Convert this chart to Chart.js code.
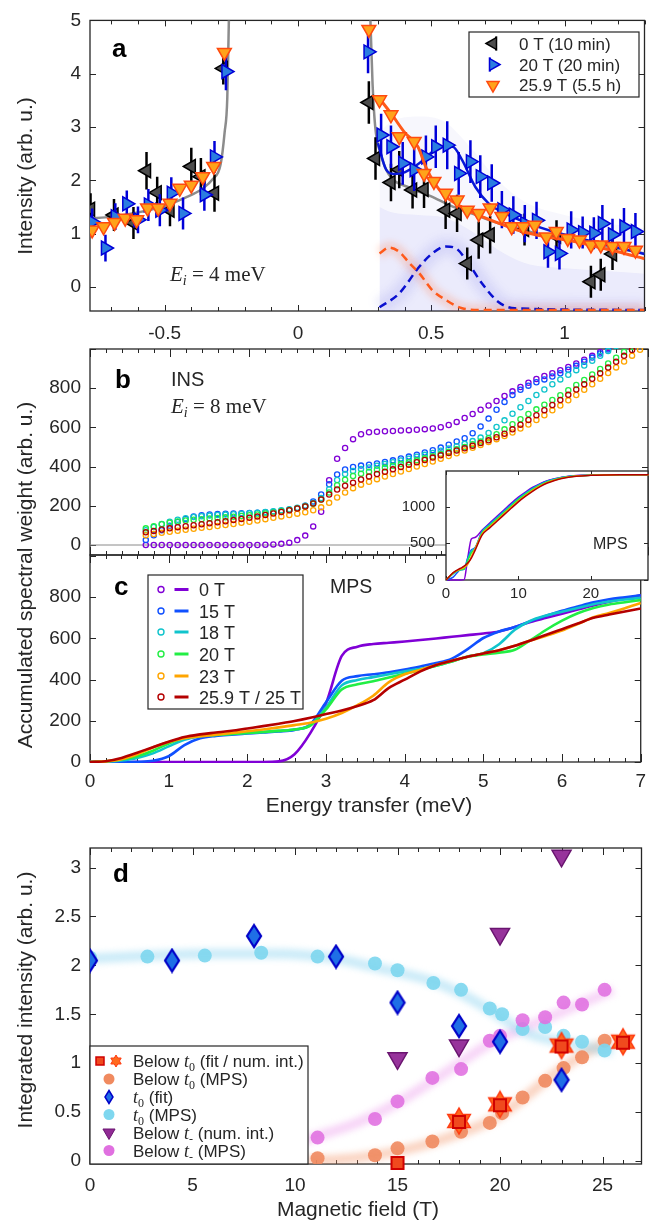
<!DOCTYPE html>
<html>
<head>
<meta charset="utf-8">
<script src="https://cdn.jsdelivr.net/npm/chart.js@4.4.0/dist/chart.umd.min.js"></script>
<style>
  body { margin: 0; background: #fff; }
  #wrap { position: relative; width: 654px; height: 1222px; overflow: hidden;
          font-family: 'Liberation Sans', Arial, sans-serif; color: #262626; }
  #wrap canvas { position: absolute; left: 0; top: 0; }
  .ttl { position: absolute; font-size: 21px; line-height: 1; white-space: nowrap;
         transform: translate(-50%, -50%); }
  .ttl.v { transform: translate(-50%, -50%) rotate(-90deg); }
</style>
</head>
<body>
<div id="wrap">
  <canvas id="pa" width="654" height="1222"></canvas>
  <canvas id="pb" width="654" height="1222"></canvas>
  <canvas id="pc" width="654" height="1222"></canvas>
  <canvas id="pd" width="654" height="1222"></canvas>
  <canvas id="pin" width="654" height="1222"></canvas>
  <div class="ttl v" style="left:24px;top:176px">Intensity (arb. u.)</div>
  <div class="ttl v" style="left:24px;top:575px">Accumulated spectral weight (arb. u.)</div>
  <div class="ttl v" style="left:24px;top:1000px">Integrated intensity (arb. u.)</div>
  <div class="ttl" style="left:369px;top:804px">Energy transfer (meV)</div>
  <div class="ttl" style="left:358px;top:1208px">Magnetic field (T)</div>
</div>
<script>
// ---------- panel a : cuts at 0 T, 20 T, 25.9 T (Ei = 4 meV)
const blackX = [-0.778, -0.69, -0.617, -0.568, -0.528, -0.48, -0.40, -0.364, -0.313, -0.28,
  0.266, 0.291, 0.349, 0.38, 0.43, 0.473, 0.554, 0.597, 0.635, 0.678, 0.721, 0.85, 0.97, 1.099, 1.136, 1.18];
const blackY = [1.46, 1.35, 1.2, 2.18, 1.77, 1.44, 2.26, 2.07, 1.76, 4.10,
  3.46, 2.41, 1.96, 2.2, 1.82, 1.83, 1.44, 1.38, 0.44, 0.88, 0.98, 1.08, 0.95, 0.10, 0.23, 0.62];
const blackErr = [0.3, 0.3, 0.3, 0.35, 0.3, 0.3, 0.35, 0.35, 0.35, 0.3,
  0.4, 0.4, 0.35, 0.35, 0.35, 0.35, 0.35, 0.35, 0.3, 0.35, 0.35, 0.3, 0.3, 0.3, 0.3, 0.3];

const blueX = [-0.772, -0.722, -0.685, -0.642, -0.60, -0.561, -0.518, -0.475, -0.431, -0.351, -0.313, -0.27,
  0.263, 0.312, 0.349, 0.393, 0.436, 0.48, 0.517, 0.56, 0.603, 0.647, 0.684, 0.727, 0.765,
  0.808, 0.851, 0.895, 0.938, 0.981, 1.025, 1.068, 1.11, 1.142, 1.18, 1.223, 1.266];
const blueY = [1.22, 0.73, 1.32, 1.56, 1.26, 1.54, 1.44, 1.76, 1.38, 1.73, 2.44, 4.04,
  4.41, 2.85, 2.63, 2.32, 2.2, 2.44, 2.63, 2.66, 2.13, 2.35, 2.07, 1.95, 1.45,
  1.35, 1.19, 1.25, 0.66, 0.63, 1.07, 1.02, 1.01, 1.19, 0.98, 1.13, 1.04];
const blueErr = [0.25, 0.25, 0.25, 0.25, 0.25, 0.3, 0.3, 0.3, 0.3, 0.3, 0.3, 0.35,
  0.4, 0.4, 0.4, 0.4, 0.4, 0.4, 0.4, 0.45, 0.4, 0.4, 0.4, 0.35, 0.35,
  0.35, 0.35, 0.35, 0.3, 0.3, 0.35, 0.3, 0.3, 0.35, 0.3, 0.35, 0.35];

const orangeX = [-0.772, -0.729, -0.688, -0.648, -0.605, -0.564, -0.524, -0.48, -0.443, -0.40, -0.357, -0.316, -0.276,
  0.266, 0.306, 0.349, 0.38, 0.436, 0.473, 0.51, 0.554, 0.597, 0.635, 0.678, 0.721, 0.765,
  0.802, 0.845, 0.888, 0.932, 0.969, 1.012, 1.056, 1.099, 1.136, 1.18, 1.223, 1.266];
const orangeY = [1.07, 1.13, 1.21, 1.29, 1.26, 1.48, 1.48, 1.57, 1.85, 1.91, 2.07, 2.26, 4.40,
  4.83, 3.51, 3.23, 2.82, 2.73, 2.13, 1.98, 1.76, 1.63, 1.44, 1.38, 1.48, 1.32,
  1.13, 1.13, 1.16, 0.94, 1.04, 0.91, 0.88, 0.79, 0.79, 0.76, 0.76, 0.69];

// fitted curves
const greyLeftX = [-0.78, -0.7, -0.6, -0.5, -0.42, -0.36, -0.32, -0.29, -0.275, -0.265, -0.258];
const greyLeftY = [1.28, 1.32, 1.4, 1.52, 1.68, 1.84, 2.02, 2.3, 2.9, 3.55, 5.3];
const greyRightX = [0.27, 0.28, 0.29, 0.31, 0.34, 0.42, 0.5, 0.57, 0.65, 0.75, 0.9, 1.05, 1.2, 1.3];
const greyRightY = [5.3, 3.8, 3.0, 2.5, 2.12, 1.86, 1.7, 1.53, 1.38, 1.2, 1.0, 0.85, 0.72, 0.63];
const blueFitX = [0.3, 0.331, 0.36, 0.4, 0.455, 0.5, 0.53, 0.58, 0.616, 0.665, 0.715, 0.77, 0.85, 0.95, 1.05, 1.15, 1.3];
const blueFitY = [2.7, 2.2, 2.12, 2.15, 2.32, 2.52, 2.63, 2.63, 2.38, 1.88, 1.57, 1.4, 1.22, 1.05, 0.92, 0.8, 0.62];
const orangeFitX = [0.3, 0.35, 0.4, 0.45, 0.48, 0.512, 0.55, 0.636, 0.7, 0.823, 0.9, 1.009, 1.1, 1.2, 1.3];
const orangeFitY = [3.57, 3.25, 2.9, 2.63, 2.25, 1.95, 1.72, 1.44, 1.3, 1.07, 0.97, 0.88, 0.78, 0.66, 0.53];
const orangeDashX = [0.306, 0.343, 0.38, 0.418, 0.455, 0.504, 0.554, 0.616, 0.69, 1.3];
const orangeDashY = [0.63, 0.74, 0.66, 0.45, 0.26, -0.06, -0.24, -0.40, -0.43, -0.43];
const blueDashX = [0.306, 0.38, 0.455, 0.504, 0.554, 0.591, 0.64, 0.69, 0.752, 0.814, 1.3];
const blueDashY = [-0.38, -0.12, 0.38, 0.63, 0.76, 0.73, 0.44, 0.07, -0.28, -0.40, -0.43];
const hazeX = [0.306, 0.35, 0.45, 0.55, 0.65, 0.75, 0.85, 1.0, 1.15, 1.3];
const hazeHi = [2.9, 3.1, 3.2, 3.1, 2.6, 2.0, 1.6, 1.35, 1.2, 1.1];
const hazeLo = [1.5, 1.4, 1.35, 1.3, 1.05, 0.7, 0.45, 0.35, 0.3, 0.25];

// ---------- panel b : INS accumulated weight (Ei = 8 meV)
const insE = [0.7, 0.8, 0.9, 1.0, 1.1, 1.2, 1.3, 1.4, 1.5, 1.6,
  1.7, 1.8, 1.9, 2.0, 2.1, 2.2, 2.3, 2.4, 2.5, 2.6,
  2.7, 2.8, 2.9, 3.0, 3.1, 3.2, 3.3, 3.4, 3.5, 3.6,
  3.7, 3.8, 3.9, 4.0, 4.1, 4.2, 4.3, 4.4, 4.5, 4.6,
  4.7, 4.8, 4.9, 5.0, 5.1, 5.2, 5.3, 5.4, 5.5, 5.6,
  5.7, 5.8, 5.9, 6.0, 6.1, 6.2, 6.3, 6.4, 6.5, 6.6,
  6.7, 6.8, 6.9, 7.0];
const ins0 = [0, 0, 0, 0, 0, 0, 0, 0, 0, 0,
  0, 0, 0, 0, 0, 1, 3, 6, 12, 25,
  48, 95, 170, 330, 440, 495, 540, 565, 575, 578,
  580, 582, 584, 586, 588, 591, 595, 601, 612, 628,
  648, 668, 690, 712, 735, 760, 784, 806, 828, 847,
  862, 876, 892, 908, 926, 945, 965, 985, 1005, 1025,
  1045, 1065, 1085, 1105];
const ins15 = [25, 50, 75, 98, 118, 133, 145, 152, 156, 158,
  160, 161, 162, 163, 165, 167, 170, 174, 180, 188,
  200, 222, 258, 310, 360, 385, 398, 405, 410, 416,
  424, 432, 441, 451, 461, 472, 484, 497, 512, 528,
  545, 570, 605, 645, 690, 730, 765, 792, 813, 830,
  845, 860, 876, 894, 914, 935, 956, 977, 998, 1020,
  1040, 1060, 1080, 1100];
const ins18 = [75, 92, 107, 119, 129, 137, 143, 147, 150, 153,
  155, 157, 159, 162, 165, 168, 172, 177, 183, 190,
  200, 215, 240, 285, 332, 362, 378, 388, 396, 404,
  413, 422, 431, 440, 450, 460, 470, 481, 492, 504,
  516, 530, 548, 572, 602, 636, 670, 703, 735, 765,
  793, 820, 845, 868, 892, 916, 940, 965, 990, 1015,
  1038, 1060, 1082, 1104];
const ins20 = [85, 96, 106, 114, 120, 125, 129, 132, 135, 138,
  141, 144, 148, 152, 156, 161, 166, 172, 178, 186,
  196, 210, 232, 268, 305, 333, 352, 364, 374, 385,
  395, 404, 413, 422, 432, 442, 453, 464, 476, 488,
  500, 514, 528, 545, 565, 590, 616, 642, 668, 692,
  716, 740, 764, 790, 816, 842, 870, 898, 926, 955,
  985, 1012, 1040, 1068];
const ins23 = [50, 56, 62, 68, 73, 78, 83, 88, 92, 97,
  102, 107, 113, 119, 125, 132, 139, 146, 153, 160,
  167, 177, 192, 215, 242, 268, 290, 308, 323, 336,
  349, 362, 375, 388, 400, 413, 426, 440, 454, 468,
  482, 496, 510, 525, 540, 556, 574, 594, 615, 638,
  662, 687, 712, 738, 765, 792, 820, 848, 877, 906,
  936, 966, 996, 1026];
const ins25 = [65, 72, 79, 85, 91, 96, 101, 106, 111, 116,
  121, 127, 133, 139, 146, 153, 161, 169, 177, 186,
  197, 212, 232, 258, 283, 302, 318, 334, 350, 362,
  374, 386, 398, 410, 422, 434, 446, 458, 470, 482,
  494, 507, 520, 534, 550, 568, 590, 614, 638, 662,
  688, 714, 740, 766, 793, 820, 848, 876, 905, 935,
  965, 995, 1025, 1055];

// ---------- panel c : MPS accumulated weight
const mpsE = [0, 0.2, 0.4, 0.6, 0.8, 1.0, 1.2, 1.4, 1.6, 1.8, 2.0, 2.2,
  2.4, 2.6, 2.8, 3.0, 3.2, 3.4, 3.6, 3.8, 4.0, 4.2, 4.4, 4.6,
  4.8, 5.0, 5.2, 5.4, 5.6, 5.8, 6.0, 6.2, 6.4, 6.6, 6.8, 7.0];
const mps0 = [0, 0, 0, 0, 0, 0, 0, 0, 0, 0, 0, 0,
  3, 38, 140, 285, 515, 560, 573, 579, 585, 592, 600, 608,
  616, 624, 634, 655, 680, 700, 720, 740, 760, 778, 794, 810];
const mps15 = [0, 0, 0, 1, 6, 28, 82, 115, 127, 133, 138, 143,
  148, 156, 182, 290, 395, 417, 426, 436, 449, 464, 480, 502,
  548, 602, 634, 655, 684, 710, 734, 755, 775, 790, 800, 810];
const mps18 = [0, 2, 8, 20, 42, 76, 108, 124, 131, 136, 141, 146,
  151, 158, 178, 265, 372, 398, 412, 426, 440, 453, 467, 488,
  512, 528, 572, 642, 686, 711, 730, 748, 766, 779, 789, 797];
const mps20 = [0, 3, 12, 28, 55, 90, 116, 126, 131, 136, 141, 146,
  151, 158, 177, 255, 352, 377, 392, 410, 428, 447, 467, 488,
  511, 522, 531, 545, 592, 642, 686, 722, 748, 765, 776, 786];
const mps23 = [0, 3, 14, 38, 70, 97, 115, 125, 133, 141, 149, 158,
  168, 179, 191, 210, 238, 276, 322, 388, 426, 448, 471, 492,
  511, 527, 543, 564, 590, 613, 638, 670, 703, 724, 747, 772];
const mps25 = [0, 4, 20, 45, 72, 98, 121, 134, 143, 152, 163, 174,
  186, 199, 215, 233, 250, 272, 300, 360, 400, 440, 471, 492,
  511, 527, 543, 564, 590, 618, 645, 672, 700, 716, 731, 745];

// ---------- inset : MPS over the full band
const insetE = [0, 1, 2, 2.5, 3, 3.5, 4, 5, 6, 7, 8, 9, 10, 11, 12, 13, 14, 15, 16, 18, 20, 22, 24, 26, 28];
const inset0 = [0, 0, 0, 5, 300, 560, 580, 680, 775, 865, 955, 1045, 1130, 1200, 1265, 1315, 1355, 1383, 1403, 1425, 1432, 1434, 1435, 1435, 1435];
const inset15 = [0, 40, 140, 150, 300, 410, 440, 665, 760, 850, 940, 1030, 1115, 1188, 1255, 1307, 1350, 1378, 1400, 1423, 1431, 1434, 1435, 1435, 1435];
const inset18 = [0, 85, 140, 150, 275, 395, 430, 655, 750, 840, 930, 1020, 1108, 1180, 1248, 1302, 1345, 1375, 1398, 1422, 1431, 1434, 1435, 1435, 1435];
const inset20 = [0, 95, 140, 152, 265, 372, 420, 645, 740, 830, 920, 1010, 1100, 1172, 1240, 1295, 1340, 1370, 1395, 1420, 1430, 1433, 1435, 1435, 1435];
const inset23 = [0, 98, 150, 170, 212, 320, 425, 630, 722, 812, 902, 992, 1080, 1155, 1225, 1283, 1330, 1363, 1390, 1418, 1429, 1433, 1435, 1435, 1435];
const inset25 = [0, 100, 160, 188, 232, 300, 400, 615, 708, 798, 888, 978, 1066, 1143, 1214, 1274, 1323, 1358, 1386, 1416, 1428, 1433, 1435, 1435, 1435];

// ---------- panel d : integrated intensities vs field
const fitT0X = [0, 4, 8, 12, 15, 18, 20, 23];
const fitT0Y = [2.05, 2.05, 2.30, 2.09, 1.62, 1.38, 1.22, 0.83];
const fitT0Err = [0.06, 0.08, 0.08, 0.08, 0.07, 0.08, 0.06, 0.09];
const mpsT0X = [0, 2.8, 5.6, 8.35, 11.1, 13.9, 15.0, 16.75, 18.1, 19.5, 20.1, 21.1, 22.2, 23.1, 24.0, 25.1];
const mpsT0Y = [2.08, 2.09, 2.10, 2.13, 2.09, 2.02, 1.95, 1.82, 1.75, 1.56, 1.50, 1.35, 1.37, 1.28, 1.22, 1.13];
const mpsBelowT0X = [11.1, 13.9, 15.0, 16.7, 18.1, 19.5, 20.1, 21.1, 22.2, 23.1, 24.0, 25.1];
const mpsBelowT0Y = [0.03, 0.06, 0.13, 0.20, 0.30, 0.39, 0.49, 0.65, 0.82, 0.95, 1.06, 1.23];
const mpsBelowTmX = [11.1, 13.9, 15.0, 16.7, 18.1, 19.5, 20.0, 21.1, 22.2, 23.1, 24.0, 25.1];
const mpsBelowTmY = [0.24, 0.43, 0.61, 0.85, 0.94, 1.23, 1.28, 1.44, 1.47, 1.62, 1.60, 1.75];
const numBelowTmX = [15, 18, 20, 23];
const numBelowTmY = [1.05, 1.18, 2.32, 3.12];
const fitBelowT0X = [15, 18, 20, 23, 26];
const fitBelowT0Y = [-0.02, 0.40, 0.57, 1.17, 1.21];
const numBelowT0X = [18, 20, 23, 26];
const numBelowT0Y = [0.41, 0.58, 1.18, 1.22];
const bandT0X = [0, 3, 6, 9, 12, 13.5, 15, 16.8, 18.2, 19.6, 21.2, 23.4, 25.5];
const bandT0Y = [2.07, 2.1, 2.12, 2.12, 2.07, 2.0, 1.93, 1.83, 1.7, 1.53, 1.32, 1.2, 1.12];
const bandTmX = [9.5, 11, 12.9, 14.6, 17.1, 19.5, 22.2, 25.5];
const bandTmY = [0.15, 0.25, 0.38, 0.55, 0.87, 1.2, 1.45, 1.75];
const bandBelowX = [10.5, 12.9, 15, 16.7, 18, 19.5, 20.5, 21.5, 22.7, 24.3, 25.5];
const bandBelowY = [0.0, 0.03, 0.1, 0.19, 0.28, 0.41, 0.54, 0.7, 0.9, 1.12, 1.24];

// ---------- styling
const SANS = "'Liberation Sans', Arial, sans-serif";
const SERIF = "'Liberation Serif', 'Times New Roman', serif";
const INK = '#262626';
const fieldColors = ['#8000d6', '#1050ff', '#10c4cc', '#22ee44', '#ffa500', '#b40000'];

Chart.defaults.font.family = SANS;
Chart.defaults.font.size = 19;
Chart.defaults.color = INK;
Chart.defaults.animation = false;
Chart.defaults.plugins.legend.display = false;
Chart.defaults.plugins.tooltip.enabled = false;

const pts = (xs, ys) => xs.map((x, i) => ({ x: x, y: ys[i] }));
const fmt = v => String(Math.round(v * 100) / 100);

function drawMark(ctx, m) {
  ctx.save();
  ctx.translate(m.x, m.y);
  ctx.beginPath();
  if (m.shape === 'triangle') {
    const rad = (m.rot || 0) * Math.PI / 180;
    for (let k = 0; k < 3; k++) {
      const t = rad + k * 2 * Math.PI / 3;
      const px = Math.sin(t) * m.r, py = -Math.cos(t) * m.r;
      if (k) ctx.lineTo(px, py); else ctx.moveTo(px, py);
    }
    ctx.closePath();
  } else if (m.shape === 'circle') {
    ctx.arc(0, 0, m.r, 0, 2 * Math.PI);
  } else if (m.shape === 'rect') {
    ctx.rect(-m.r, -m.r, 2 * m.r, 2 * m.r);
  } else if (m.shape === 'diamond') {
    ctx.moveTo(0, -m.h / 2); ctx.lineTo(m.w / 2, 0); ctx.lineTo(0, m.h / 2); ctx.lineTo(-m.w / 2, 0);
    ctx.closePath();
  } else if (m.shape === 'star') {
    for (let k = 0; k < 12; k++) {
      const t = k * Math.PI / 6;
      const rr = k % 2 ? m.r / Math.sqrt(3) : m.r;
      const px = Math.sin(t) * rr, py = -Math.cos(t) * rr;
      if (k) ctx.lineTo(px, py); else ctx.moveTo(px, py);
    }
    ctx.closePath();
  } else if (m.shape === 'hline') {
    ctx.moveTo(-m.len / 2, 0); ctx.lineTo(m.len / 2, 0);
  } else if (m.shape === 'vline') {
    ctx.moveTo(0, -m.len / 2); ctx.lineTo(0, m.len / 2);
  }
  if (m.fill) { ctx.fillStyle = m.fill; ctx.fill(); }
  if (m.stroke) { ctx.strokeStyle = m.stroke; ctx.lineWidth = m.lw || 1; ctx.stroke(); }
  ctx.restore();
}

function markCanvas(m, w, h) {
  const c = document.createElement('canvas');
  c.width = w; c.height = h;
  drawMark(c.getContext('2d'), Object.assign({}, m, { x: w / 2, y: h / 2 }));
  return c;
}

function drawParts(ctx, x, y, parts) {
  let cx = x;
  parts.forEach(p => {
    ctx.font = p.font;
    ctx.fillStyle = p.color || INK;
    ctx.fillText(p.t, cx, y + (p.dy || 0));
    cx += ctx.measureText(p.t).width;
  });
}

function drawFrame(chart, spec) {
  const { ctx, chartArea: a, scales } = chart;
  ctx.save();
  ctx.strokeStyle = INK;
  ctx.lineWidth = 1;
  const marks = (scale, s, horiz) => {
    const n0 = Math.ceil(scale.min / s.step - 1e-6), n1 = Math.floor(scale.max / s.step + 1e-6);
    ctx.beginPath();
    for (let n = n0; n <= n1; n++) {
      const v = n * s.step;
      const major = s.major ? Math.abs(v / s.major - Math.round(v / s.major)) < 1e-6 : true;
      const len = major ? s.len : s.minor;
      const p = Math.round(scale.getPixelForValue(v)) + 0.5;
      if (horiz) {
        ctx.moveTo(p, a.bottom); ctx.lineTo(p, a.bottom - len);
        ctx.moveTo(p, a.top); ctx.lineTo(p, a.top + len);
      } else {
        ctx.moveTo(a.left, p); ctx.lineTo(a.left + len, p);
        ctx.moveTo(a.right, p); ctx.lineTo(a.right - len, p);
      }
    }
    ctx.stroke();
  };
  marks(scales.x, spec.x, true);
  marks(scales.y, spec.y, false);
  ctx.lineWidth = 1.3;
  ctx.strokeRect(a.left, a.top, a.right - a.left, a.bottom - a.top);
  ctx.restore();
}

function drawLegend(ctx, lg) {
  const [l, t, r, b] = lg.box;
  ctx.save();
  ctx.fillStyle = '#fff';
  ctx.fillRect(l, t, r - l, b - t);
  ctx.strokeStyle = INK;
  ctx.lineWidth = 1.2;
  ctx.strokeRect(l, t, r - l, b - t);
  lg.rows.forEach(row => {
    row.marks.forEach(m => drawMark(ctx, Object.assign({ y: row.y }, m)));
    drawParts(ctx, lg.tx, row.y + lg.dy, row.text);
  });
  ctx.restore();
}

// per-canvas decorations, looked up by canvas id
const extras = {};

const decor = {
  id: 'decor',
  beforeDatasetsDraw(chart) {
    const ex = extras[chart.canvas.id];
    if (!ex) return;
    const { ctx, chartArea: a } = chart;
    if (ex.whiteArea) {
      ctx.save();
      ctx.fillStyle = '#fff';
      ctx.fillRect(a.left, a.top, a.right - a.left, a.bottom - a.top);
      ctx.restore();
    }
    drawFrame(chart, ex.frame);
  },
  beforeDatasetDraw(chart, args) {
    const ds = chart.data.datasets[args.index];
    const { ctx, chartArea: a } = chart;
    if (ds.blur) ctx.filter = 'blur(' + ds.blur + 'px)';
    if (!ds.errY) return;
    const xs = chart.scales.x, ys = chart.scales.y;
    ctx.save();
    ctx.beginPath();
    ctx.rect(a.left, a.top, a.right - a.left, a.bottom - a.top);
    ctx.clip();
    ctx.strokeStyle = ds.errColor;
    ctx.lineWidth = ds.errWidth || 2.5;
    ctx.beginPath();
    ds.data.forEach((p, i) => {
      const px = xs.getPixelForValue(p.x);
      ctx.moveTo(px, ys.getPixelForValue(p.y - ds.errY[i]));
      ctx.lineTo(px, ys.getPixelForValue(p.y + ds.errY[i]));
    });
    ctx.stroke();
    ctx.restore();
  },
  afterDatasetDraw(chart) {
    chart.ctx.filter = 'none';
  },
  afterDraw(chart) {
    const ex = extras[chart.canvas.id];
    if (!ex) return;
    const ctx = chart.ctx;
    ctx.save();
    ctx.textBaseline = 'alphabetic';
    (ex.notes || []).forEach(n => drawParts(ctx, n.x, n.y, n.parts));
    if (ex.legend) drawLegend(ctx, ex.legend);
    ctx.restore();
  }
};

// linear axis with fixed box size and ticks exactly on multiples of step
function axis(min, max, step, size, tickOpts) {
  return {
    type: 'linear', min: min, max: max,
    grid: { display: false, drawTicks: false }, border: { display: false },
    ticks: Object.assign({ autoSkip: false, maxRotation: 0, padding: 9, callback: v => fmt(v) }, tickOpts || {}),
    afterBuildTicks: s => {
      const t = [];
      for (let n = Math.ceil(min / step - 1e-6); n <= Math.floor(max / step + 1e-6); n++) t.push({ value: n * step });
      s.ticks = t;
    },
    afterFit: s => { if (s.isHorizontal()) s.height = size; else s.width = size; }
  };
}

function makeChart(id, area, xAxis, yAxis, datasets, axW, axH) {
  return new Chart(document.getElementById(id), {
    type: 'scatter',
    data: { datasets: datasets },
    options: {
      responsive: false,
      devicePixelRatio: 1,
      layout: { padding: { left: area.left - axW, right: 654 - area.right, top: area.top, bottom: 1222 - area.bottom - axH } },
      scales: { x: xAxis, y: yAxis }
    },
    plugins: [decor]
  });
}

function lineDs(xs, ys, color, width, extra) {
  return Object.assign({ data: pts(xs, ys), showLine: true, borderColor: color, borderWidth: width,
    pointRadius: 0, cubicInterpolationMode: 'monotone', fill: false }, extra || {});
}

// ---------- text pieces
const bold = s => ({ t: s, font: 'bold 26px ' + SANS, color: '#000' });
const Ei = val => [
  { t: 'E', font: 'italic 21px ' + SERIF },
  { t: 'i', font: 'italic 14px ' + SERIF, dy: 4 },
  { t: ' = ' + val + ' meV', font: '21px ' + SERIF }
];
const T17 = s => ({ t: s, font: '17px ' + SANS });
const tIt = { t: 't', font: 'italic 18px ' + SERIF };
const sub = s => ({ t: s, font: '12px ' + SERIF, dy: 4 });

// ---------- panel a
const triBlack = { shape: 'triangle', rot: 270, fill: '#4d4d4d', stroke: '#000' };
const triBlue = { shape: 'triangle', rot: 90, fill: '#2b7de0', stroke: '#0000d8' };
const triOrange = { shape: 'triangle', rot: 180, fill: '#ffa31a', stroke: '#ff4a10' };

extras.pa = {
  frame: { x: { step: 0.1, major: 0.5, len: 6, minor: 4 }, y: { step: 1, len: 6 } },
  notes: [
    { x: 112, y: 57, parts: [bold('a')] },
    { x: 170, y: 281, parts: Ei('4') }
  ],
  legend: {
    box: [469, 32, 639, 97], tx: 519, dy: 6,
    rows: [
      { y: 43.5, marks: [{ shape: 'vline', x: 496, len: 14, stroke: '#000', lw: 2 }, Object.assign({ x: 493, r: 7, lw: 1.5 }, triBlack)], text: [T17('0 T (10 min)')] },
      { y: 64.5, marks: [{ shape: 'vline', x: 490, len: 14, stroke: '#0000d8', lw: 2 }, Object.assign({ x: 493, r: 7, lw: 1.5 }, triBlue)], text: [T17('20 T (20 min)')] },
      { y: 85, marks: [Object.assign({ x: 493, r: 7, lw: 1.5 }, triOrange)], text: [T17('25.9 T (5.5 h)')] }
    ]
  }
};

makeChart('pa', { left: 90, right: 648, top: 20, bottom: 311 },
  axis(-0.78, 1.3, 0.5, 40, { padding: 11 }),
  axis(-0.45, 5, 1, 90),
  [
    { data: pts(orangeX, orangeY), pointStyle: 'triangle', pointRotation: 180, pointRadius: 8,
      backgroundColor: '#ffa31a', borderColor: '#ff4a10', borderWidth: 1.5 },
    lineDs(orangeFitX, orangeFitY, '#ff5a1a', 3),
    { data: pts(blueX, blueY), pointStyle: 'triangle', pointRotation: 90, pointRadius: 8,
      backgroundColor: '#2b7de0', borderColor: '#0000d8', borderWidth: 1.5,
      errY: blueErr, errColor: '#0000d8' },
    lineDs(blueFitX, blueFitY, '#0818d8', 2.5),
    { data: pts(blackX, blackY), pointStyle: 'triangle', pointRotation: 270, pointRadius: 8,
      backgroundColor: '#4d4d4d', borderColor: '#000', borderWidth: 1.5,
      errY: blackErr, errColor: '#000' },
    lineDs(greyLeftX, greyLeftY, '#8c8c8c', 2.5),
    lineDs(greyRightX, greyRightY, '#8c8c8c', 2.5),
    lineDs(orangeDashX, orangeDashY, '#ff5a1a', 2.5, { borderDash: [8, 5] }),
    lineDs(blueDashX, blueDashY, '#0a10d0', 2.5, { borderDash: [8, 5] }),
    lineDs(orangeDashX, orangeDashY, 'rgba(255,120,70,0.22)', 12, { blur: 3 }),
    lineDs(blueDashX, blueDashY, 'rgba(80,80,225,0.12)', 18, { blur: 4 }),
    lineDs(hazeX, hazeLo, 'rgba(0,0,0,0)', 0, { fill: 'start', backgroundColor: 'rgba(90,90,225,0.08)', blur: 2 }),
    lineDs(hazeX, hazeHi, 'rgba(0,0,0,0)', 0, { fill: 'start', backgroundColor: 'rgba(90,90,225,0.05)', blur: 3 })
  ], 90, 40);

// ---------- panel b
const insSeries = [ins0, ins15, ins18, ins20, ins23, ins25];
extras.pb = {
  frame: { x: { step: 0.2, major: 1, len: 8, minor: 4 }, y: { step: 200, len: 6 } },
  notes: [
    { x: 115, y: 388, parts: [bold('b')] },
    { x: 171, y: 386, parts: [{ t: 'INS', font: '20px ' + SANS }] },
    { x: 171, y: 413, parts: Ei('8') }
  ]
};
makeChart('pb', { left: 90, right: 648, top: 349, bottom: 555 },
  axis(0, 7, 1, 0, { display: false }),
  axis(-51, 1000, 200, 90, { callback: v => (v >= 1000 ? '' : fmt(v)) }),
  insSeries.map((ys, i) => ({
    data: pts(insE, ys), pointStyle: 'circle', pointRadius: 2.6, borderWidth: 1.3,
    borderColor: fieldColors[i], backgroundColor: 'rgba(0,0,0,0)', clip: 1
  })).reverse().concat([lineDs([0, 7], [0, 0], '#8a8a8a', 1, { cubicInterpolationMode: 'default' })]),
  90, 0);

// ---------- panel c
const mpsSeries = [mps0, mps15, mps18, mps20, mps23, mps25];
const fieldLabels = ['0 T', '15 T', '18 T', '20 T', '23 T', '25.9 T / 25 T'];
const legendRowsY = [589.5, 611, 632, 654, 676, 697];
extras.pc = {
  frame: { x: { step: 0.2, major: 1, len: 8, minor: 4 }, y: { step: 200, len: 6 } },
  notes: [
    { x: 114, y: 595, parts: [bold('c')] },
    { x: 330, y: 593, parts: [{ t: 'MPS', font: '19.5px ' + SANS }] }
  ],
  legend: {
    box: [148, 575, 303, 709], tx: 199, dy: 6.5,
    rows: fieldLabels.map((lab, i) => ({
      y: legendRowsY[i],
      marks: [
        { shape: 'circle', x: 161, r: 3, stroke: fieldColors[i], lw: 1.4 },
        { shape: 'hline', x: 181.5, len: 14, stroke: fieldColors[i], lw: 3 }
      ],
      text: [{ t: lab, font: '18px ' + SANS }]
    }))
  }
};
makeChart('pc', { left: 90, right: 648, top: 555, bottom: 762 },
  axis(0, 7, 1, 40, { padding: 8 }),
  axis(0, 1005, 200, 90, { callback: v => (v >= 1000 ? '' : fmt(v)) }),
  mpsSeries.map((ys, i) => lineDs(mpsE, ys, fieldColors[i], 2.6, { clip: 1 })).reverse(),
  90, 40);

// ---------- inset
extras.pin = {
  whiteArea: true,
  frame: { x: { step: 10, len: 4 }, y: { step: 500, len: 4 } },
  notes: [{ x: 593, y: 549, parts: [{ t: 'MPS', font: '16px ' + SANS }] }]
};
makeChart('pin', { left: 446, right: 648, top: 471, bottom: 580 },
  axis(0, 27.9, 10, 30, { padding: 5, font: { size: 15 } }),
  axis(0, 1487, 500, 56, { padding: 11, font: { size: 15 }, callback: v => String(v) }),
  [inset0, inset15, inset18, inset20, inset23, inset25]
    .map((ys, i) => lineDs(insetE, ys, fieldColors[i], 1.5, { clip: 1 })).reverse(),
  56, 30);

// ---------- panel d
const diamondImg = markCanvas({ shape: 'diamond', w: 14, h: 22, fill: '#1f6fe6', stroke: '#0000c8', lw: 2.2 }, 18, 26);
const starImg = markCanvas({ shape: 'star', r: 13, fill: '#ff6a1e', stroke: '#ff3a10', lw: 1.5 }, 30, 30);

extras.pd = {
  frame: { x: { step: 1, major: 5, len: 7, minor: 4 }, y: { step: 0.5, len: 6 } },
  notes: [{ x: 113, y: 882, parts: [bold('d')] }],
  legend: {
    box: [90, 1046, 308, 1164], tx: 133, dy: 6,
    rows: [
      { y: 1061, marks: [
          { shape: 'rect', x: 100, r: 4, fill: '#f04a1e', stroke: '#d00000', lw: 1.5 },
          { shape: 'star', x: 116, r: 6, fill: '#ff6a1e', stroke: '#ff3a10', lw: 1 }],
        text: [T17('Below '), tIt, sub('0'), T17(' (fit / num. int.)')] },
      { y: 1079, marks: [{ shape: 'circle', x: 109, r: 5.5, fill: '#f08a5f' }],
        text: [T17('Below '), tIt, sub('0'), T17(' (MPS)')] },
      { y: 1097, marks: [{ shape: 'diamond', x: 109, w: 8, h: 13, fill: '#1f6fe6', stroke: '#0000c8', lw: 1.5 }],
        text: [tIt, sub('0'), T17(' (fit)')] },
      { y: 1114.5, marks: [{ shape: 'circle', x: 109, r: 5.5, fill: '#7fd7ef' }],
        text: [tIt, sub('0'), T17(' (MPS)')] },
      { y: 1132.5, marks: [{ shape: 'triangle', x: 109, r: 7, rot: 180, fill: '#912b95', stroke: '#6a1570', lw: 1 }],
        text: [T17('Below '), tIt, sub('-'), T17(' (num. int.)')] },
      { y: 1150.5, marks: [{ shape: 'circle', x: 109, r: 5.5, fill: '#e070e0' }],
        text: [T17('Below '), tIt, sub('-'), T17(' (MPS)')] }
    ]
  }
};

makeChart('pd', { left: 90, right: 648, top: 848, bottom: 1164 },
  axis(0, 26.9, 5, 40, { padding: 10 }),
  axis(-0.03, 3.2, 0.5, 90),
  [
    { data: pts(fitBelowT0X, fitBelowT0Y), pointStyle: 'rect', pointRadius: 8.5,
      backgroundColor: '#f04a1e', borderColor: '#d00000', borderWidth: 2, clip: false },
    { data: pts(numBelowT0X, numBelowT0Y), pointStyle: starImg, pointRadius: 10 },
    { data: pts(fitT0X, fitT0Y), pointStyle: diamondImg, pointRadius: 10,
      errY: fitT0Err, errColor: '#0000c8', errWidth: 2.5 },
    { data: pts(numBelowTmX, numBelowTmY), pointStyle: 'triangle', pointRotation: 180, pointRadius: 11,
      backgroundColor: 'rgba(145,40,150,0.95)', borderColor: '#6a1570', borderWidth: 1.5 },
    { data: pts(mpsBelowTmX, mpsBelowTmY), pointStyle: 'circle', pointRadius: 7, borderWidth: 0,
      backgroundColor: 'rgba(224,112,224,0.88)' },
    { data: pts(mpsT0X, mpsT0Y), pointStyle: 'circle', pointRadius: 7, borderWidth: 0,
      backgroundColor: 'rgba(127,215,239,0.92)' },
    { data: pts(mpsBelowT0X, mpsBelowT0Y), pointStyle: 'circle', pointRadius: 7, borderWidth: 0,
      backgroundColor: 'rgba(240,138,95,0.9)' },
    lineDs(bandT0X, bandT0Y, 'rgba(140,210,240,0.45)', 10, { blur: 3 }),
    lineDs(bandTmX, bandTmY, 'rgba(235,150,235,0.4)', 10, { blur: 3 }),
    lineDs(bandBelowX, bandBelowY, 'rgba(245,160,120,0.45)', 10, { blur: 3 })
  ], 90, 40);
</script>
</body>
</html>
